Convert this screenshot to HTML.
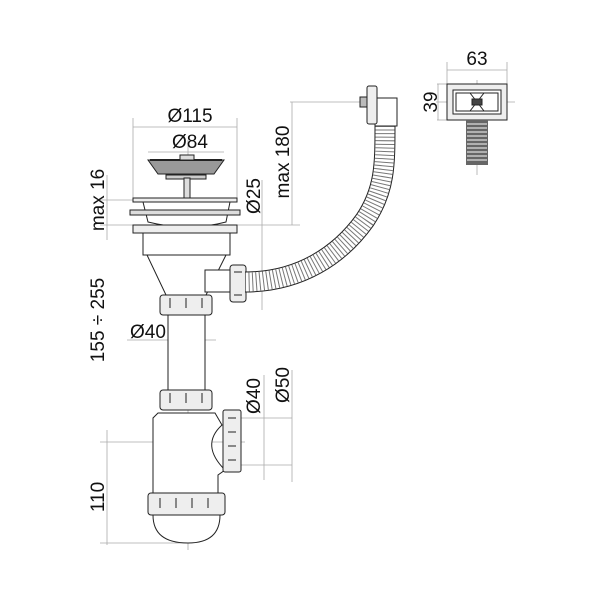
<!DOCTYPE html>
<html><head><meta charset="utf-8"><style>
html,body{margin:0;padding:0;background:#fff;}
svg{display:block;}
text{font-family:"Liberation Sans",sans-serif;fill:#111;}
</style></head><body>
<svg width="600" height="600" viewBox="0 0 600 600" xmlns="http://www.w3.org/2000/svg">
<g stroke="#aaa" stroke-width="0.8" fill="none">
<line x1="133" y1="127" x2="237" y2="127"/>
<line x1="133" y1="118" x2="133" y2="200"/>
<line x1="237" y1="118" x2="237" y2="200"/>
<line x1="148" y1="152" x2="224" y2="152"/>
<line x1="107" y1="175" x2="107" y2="240"/>
<line x1="100" y1="200" x2="133" y2="200"/>
<line x1="100" y1="225" x2="300" y2="225"/>
<line x1="107" y1="430" x2="107" y2="545"/>
<line x1="100" y1="442" x2="245" y2="442"/>
<line x1="100" y1="543" x2="190" y2="543"/>
<line x1="292" y1="102" x2="292" y2="225"/>
<line x1="290" y1="102" x2="360" y2="102"/>
<line x1="262" y1="180" x2="262" y2="310"/>
<line x1="205" y1="283" x2="250" y2="283"/>
<line x1="127" y1="340" x2="216" y2="340"/>
<line x1="264" y1="375" x2="264" y2="480"/>
<line x1="292" y1="370" x2="292" y2="482"/>
<line x1="240" y1="418" x2="292" y2="418"/>
<line x1="240" y1="465" x2="292" y2="465"/>
<line x1="188" y1="140" x2="188" y2="550"/>
<line x1="447" y1="62" x2="447" y2="84"/>
<line x1="507" y1="62" x2="507" y2="84"/>
<line x1="447" y1="70" x2="507" y2="70"/>
<line x1="437" y1="84" x2="447" y2="84"/>
<line x1="437" y1="120" x2="447" y2="120"/>
<line x1="438" y1="84" x2="438" y2="120"/>
<line x1="436" y1="102" x2="515" y2="102"/>
<line x1="477" y1="80" x2="477" y2="175"/>
</g>
<g stroke="#222" stroke-width="1" fill="#fff">
<path d="M148 160 L224 160 L214 174 L158 174 Z" fill="#999"/>
<path d="M150 160 L222 160" stroke-width="2"/>
<rect x="180" y="155" width="14" height="5" fill="#ddd"/>
<rect x="166" y="175" width="40" height="4" fill="#ccc"/>
<rect x="184" y="178" width="6" height="22" fill="#ddd"/>
<rect x="133" y="198" width="104" height="4" fill="#eee"/>
<path d="M143 202 L230 202 L226 222 Q188 232 148 222 Z"/>
<rect x="130" y="210" width="110" height="5" fill="#ddd"/>
<rect x="133" y="225" width="104" height="8" fill="#eee"/>
<rect x="143" y="233" width="87" height="22"/>
<path d="M147 255 L226 255 L206 295 L166 295 Z"/>
<rect x="160" y="295" width="52" height="20" rx="3" fill="#eee"/>
<path d="M170 298v10 M186 298v10 M202 298v10" />
<rect x="168" y="315" width="37" height="75"/>
<rect x="160" y="390" width="52" height="20" rx="3" fill="#eee"/>
<path d="M170 393v10 M186 393v10 M202 393v10"/>
<path d="M158 413 L215 413 L222 425 Q200 445 225 470 L218 475 L218 493 L153 493 L153 418 Z"/>
<rect x="223" y="410" width="18" height="62" rx="2" fill="#eee"/>
<path d="M228 418h8 M228 432h8 M228 446h8 M228 460h8"/>
<rect x="148" y="493" width="77" height="22" rx="3" fill="#eee"/>
<path d="M160 498v10 M176 498v10 M192 498v10 M208 498v10"/>
<path d="M153 515 L220 515 Q220 543 188 543 Q153 543 153 515 Z"/>
<rect x="205" y="270" width="25" height="22"/>
<rect x="230" y="265" width="16" height="37" rx="3" fill="#eee"/>
<path d="M234 272h8 M234 295h8"/>
</g>
<path d="M245 282 C300 282 340 255 365 220 C385 190 385 165 385 125" stroke="#222" stroke-width="21" fill="none"/>
<path d="M245 282 C300 282 340 255 365 220 C385 190 385 165 385 125" stroke="#fff" stroke-width="19" fill="none"/>
<path d="M245 282 C300 282 340 255 365 220 C385 190 385 165 385 125" stroke="#777" stroke-width="19" stroke-dasharray="1 2.6" fill="none"/>
<g stroke="#222" stroke-width="1" fill="#fff">
<rect x="375" y="98" width="22" height="28"/>
<rect x="367" y="86" width="10" height="38" rx="2" fill="#eee"/>
<rect x="360" y="97" width="7" height="10" fill="#bbb"/>
<rect x="447" y="84" width="60" height="36" fill="#eee"/>
<rect x="453" y="90" width="48" height="24" fill="#fff"/>
<rect x="456" y="93" width="42" height="18" fill="#fff"/>
<path d="M470 93 L484 111 M484 93 L470 111"/>
<rect x="472" y="99" width="10" height="6" fill="#444"/>
</g>
<rect x="466" y="120" width="22" height="45" fill="#666"/>
<g stroke="#ddd" stroke-width="1.2"><path d="M467 124h20M467 128h20M467 132h20M467 136h20M467 140h20M467 144h20M467 148h20M467 152h20M467 156h20M467 160h20"/></g>
<g font-size="19">
<text x="190" y="122" text-anchor="middle">Ø115</text>
<text x="190" y="148" text-anchor="middle">Ø84</text>
<text x="148" y="338" text-anchor="middle">Ø40</text>
<text x="477" y="65" text-anchor="middle">63</text>
<text transform="translate(104,200) rotate(-90)" text-anchor="middle">max 16</text>
<text transform="translate(104,320) rotate(-90)" text-anchor="middle">155 ÷ 255</text>
<text transform="translate(104,497) rotate(-90)" text-anchor="middle">110</text>
<text transform="translate(289,162) rotate(-90)" text-anchor="middle">max 180</text>
<text transform="translate(260,196) rotate(-90)" text-anchor="middle">Ø25</text>
<text transform="translate(260,396) rotate(-90)" text-anchor="middle">Ø40</text>
<text transform="translate(289,385) rotate(-90)" text-anchor="middle">Ø50</text>
<text transform="translate(437,102) rotate(-90)" text-anchor="middle">39</text>
</g>
</svg>
</body></html>
